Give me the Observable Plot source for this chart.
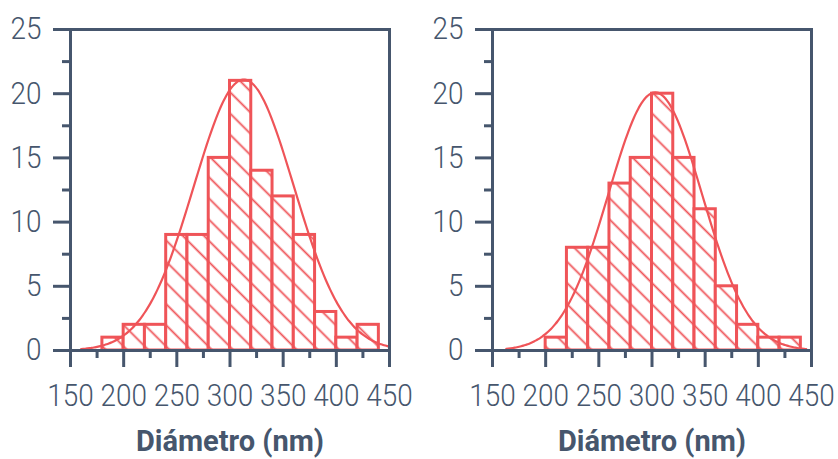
<!DOCTYPE html>
<html>
<head>
<meta charset="utf-8">
<script src="https://cdn.jsdelivr.net/npm/d3@7"></script>
<script src="https://cdn.jsdelivr.net/npm/@observablehq/plot@0.6"></script>
<style>
  html, body { margin: 0; padding: 0; background: #fff; overflow: hidden; }
  #wrap { position: relative; width: 838px; height: 459px; }
  #wrap svg { position: absolute; top: 0; }
</style>
</head>
<body>
<div id="wrap"></div>
<script>
// Particle size histograms (20 nm bins) with fitted normal curves
const binWidth = 20;
const binStartsA = [180, 200, 220, 240, 260, 280, 300, 320, 340, 360, 380, 400, 420];
const countsA    = [1, 2, 2, 9, 9, 15, 21, 14, 12, 9, 3, 1, 2];
const binStartsB = [200, 220, 240, 260, 280, 300, 320, 340, 360, 380, 400, 420];
const countsB    = [1, 8, 8, 13, 15, 20, 15, 11, 5, 2, 1, 1];

// Gaussian fit parameters: [mean, sd, peak, drawn from, drawn to]
const fitA = [313, 47, 21.1, 160, 450];
const fitB = [303, 44, 20.1, 163, 446];

const xMajor = [150, 200, 250, 300, 350, 400, 450];
const xMinor = [175, 225, 275, 325, 375, 425];
const yMajor = [0, 5, 10, 15, 20, 25];
const yMinor = [2.5, 7.5, 12.5, 17.5, 22.5];
const xTitle = "Diámetro (nm)";

const red = "#ef5458";
const slate = "#46566d";
const font = "Roboto, sans-serif";

function gaussian([mean, sd, peak, from, to]) {
  return d3.range(from, to + 0.001, 2).map(x => ({
    x, y: peak * Math.exp(-((x - mean) ** 2) / (2 * sd * sd))
  }));
}

// squeeze text horizontally around its anchor to get a condensed face
function condense(svg, selector, k) {
  svg.querySelectorAll(selector).forEach(t => {
    const tr = t.getAttribute("transform") || "";
    t.setAttribute("transform", `${tr} scale(${k},1)`);
  });
}

function panel(id, starts, counts, fit, left) {
  const bars = starts.map((s, i) => ({x1: s, x2: s + binWidth, y: counts[i]}));
  const svg = Plot.plot({
    width: 419,
    height: 459,
    marginLeft: 70,
    marginRight: 30,
    marginTop: 29,
    marginBottom: 109,
    x: {domain: [150, 450]},
    y: {domain: [0, 25]},
    style: {fontFamily: font, fontSize: "31px", color: slate, background: "white"},
    marks: [
      Plot.rectY(bars, {x1: "x1", x2: "x2", y: "y", fill: `url(#${id})`, stroke: red, strokeWidth: 3}),
      Plot.line(gaussian(fit), {x: "x", y: "y", stroke: red, strokeWidth: 2.2, curve: "natural"}),
      Plot.frame({stroke: slate, strokeWidth: 3}),
      Plot.axisY({ticks: yMajor, tickSize: 17, tickPadding: 12, strokeWidth: 3, label: null, fontSize: 31, fontWeight: 300}),
      Plot.axisY({ticks: yMinor, tickSize: 8, text: null, strokeWidth: 3, label: null}),
      Plot.axisX({ticks: xMajor, tickSize: 17, tickPadding: 16, strokeWidth: 3, label: null, fontSize: 31, fontWeight: 300}),
      Plot.axisX({ticks: xMinor, tickSize: 8, text: null, strokeWidth: 3, label: null}),
      Plot.text([xTitle], {text: d => d, frameAnchor: "bottom", dy: 100, fontWeight: "bold", fontSize: 29, fill: slate})
    ]
  });
  condense(svg, 'g[aria-label$="tick label"] text', 0.9);
  // diagonal hatch used as the bar fill
  const defs = d3.select(svg).insert("defs", ":first-child");
  const pat = defs.append("pattern")
    .attr("id", id)
    .attr("patternUnits", "userSpaceOnUse")
    .attr("width", 15)
    .attr("height", 15)
    .attr("patternTransform", "rotate(-45)");
  pat.append("rect").attr("width", 15).attr("height", 15).attr("fill", "white");
  pat.append("line")
    .attr("x1", 7.5).attr("y1", -1).attr("x2", 7.5).attr("y2", 16)
    .attr("stroke", red).attr("stroke-width", 1.8);
  svg.style.left = left + "px";
  document.getElementById("wrap").appendChild(svg);
}

panel("hatchA", binStartsA, countsA, fitA, 0);
panel("hatchB", binStartsB, countsB, fitB, 422);
</script>
</body>
</html>
